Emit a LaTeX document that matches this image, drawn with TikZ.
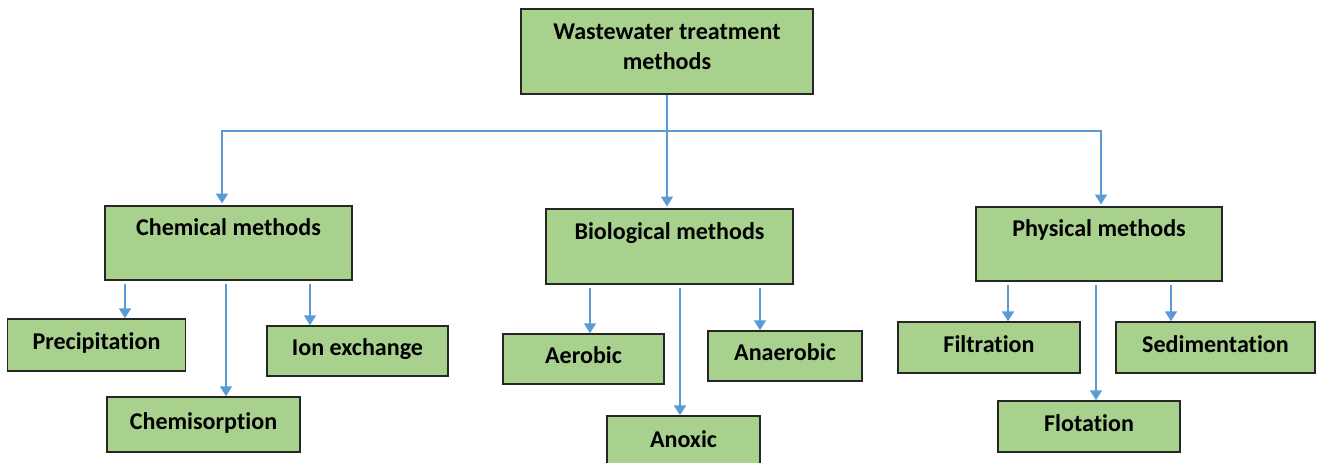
\documentclass[tikz,border=0pt]{standalone}
\usepackage{fontspec}
\setmainfont{Carlito}[Ligatures=NoCommon]
\usepackage{xcolor}
\usetikzlibrary{arrows.meta, positioning}

\definecolor{boxgreen}{HTML}{A9D18E}
\definecolor{lineblue}{HTML}{5B9BD5}
\definecolor{edgegray}{HTML}{262626}

\begin{document}
\begin{tikzpicture}[
    x=0.02cm, y=-0.02cm,
    font=\fontsize{13.7}{17}\selectfont\bfseries,
    box/.style={
        rectangle,
        draw=edgegray,
        fill=boxgreen,
        line width=0.9pt,
        inner sep=0pt,
        align=center,
        text height=9.4pt,
        text depth=4pt
    },
    head/.style={
        box,
        text height=9pt,
        text depth=17pt
    },
    wire/.style={draw=lineblue, line width=0.85pt},
    arr/.style={wire, -{Triangle[width=6.8pt, length=5.6pt]}, shorten <=2pt}
]
\useasboundingbox (0,0) rectangle (1320,463);

\node[box, text height={}, text depth=5.1pt, minimum width=5.84cm, minimum height=1.7cm] (top) at (667,51.5) {Wastewater treatment\\methods};

\node[head, minimum width=4.94cm, minimum height=1.48cm] (chem) at (228.5,243) {Chemical methods};
\node[head, minimum width=4.94cm, minimum height=1.5cm] (bio) at (669.5,246.5) {Biological methods};
\node[head, minimum width=4.92cm, minimum height=1.48cm] (phys) at (1099,244) {Physical methods};

\node[box, minimum width=3.56cm, minimum height=1.04cm] (prec) at (96.5,345) {Precipitation};
\node[box, minimum width=3.62cm, minimum height=1cm] (ion) at (357.5,351) {Ion exchange};
\node[box, minimum width=3.86cm, minimum height=1.1cm] (chemi) at (203.5,424.5) {Chemisorption};

\node[box, minimum width=3.22cm, minimum height=1cm] (aero) at (583.5,359) {Aerobic};
\node[box, minimum width=3.08cm, minimum height=1cm] (anaer) at (785,356) {Anaerobic};
\node[box, minimum width=3.06cm, minimum height=1.08cm] (anox) at (683.5,443) {Anoxic};

\node[box, minimum width=3.64cm, minimum height=1.02cm] (filt) at (989,347.5) {Filtration};
\node[box, minimum width=3.98cm, minimum height=1.02cm] (sed) at (1215.5,347.5) {Sedimentation};
\node[box, minimum width=3.64cm, minimum height=1.02cm] (flot) at (1089,426.5) {Flotation};

% main branches
\coordinate (bus) at (667,131);
\draw[wire] (top.south) -- (bus);
\draw[arr, shorten <=0pt, shorten >=1pt] (bus) -| (chem.north -| 222,0);
\draw[arr, shorten <=0pt, shorten >=1pt] (bus) -- (bio.north -| bus);
\draw[arr, shorten <=0pt, shorten >=1pt] (bus) -| (phys.north -| 1101,0);

% chemical
\draw[arr] (chem.south -| 125,0) -- (prec.north -| 125,0);
\draw[arr] (chem.south -| 226,0) -- (chemi.north -| 226,0);
\draw[arr] (chem.south -| 310,0) -- (ion.north -| 310,0);

% biological
\draw[arr] (bio.south -| 590,0) -- (aero.north -| 590,0);
\draw[arr] (bio.south -| 680,0) -- (anox.north -| 680,0);
\draw[arr] (bio.south -| 760,0) -- (anaer.north -| 760,0);

% physical
\draw[arr] (phys.south -| 1008,0) -- (filt.north -| 1008,0);
\draw[arr] (phys.south -| 1096,0) -- (flot.north -| 1096,0);
\draw[arr] (phys.south -| 1171,0) -- (sed.north -| 1171,0);

\end{tikzpicture}
\end{document}
